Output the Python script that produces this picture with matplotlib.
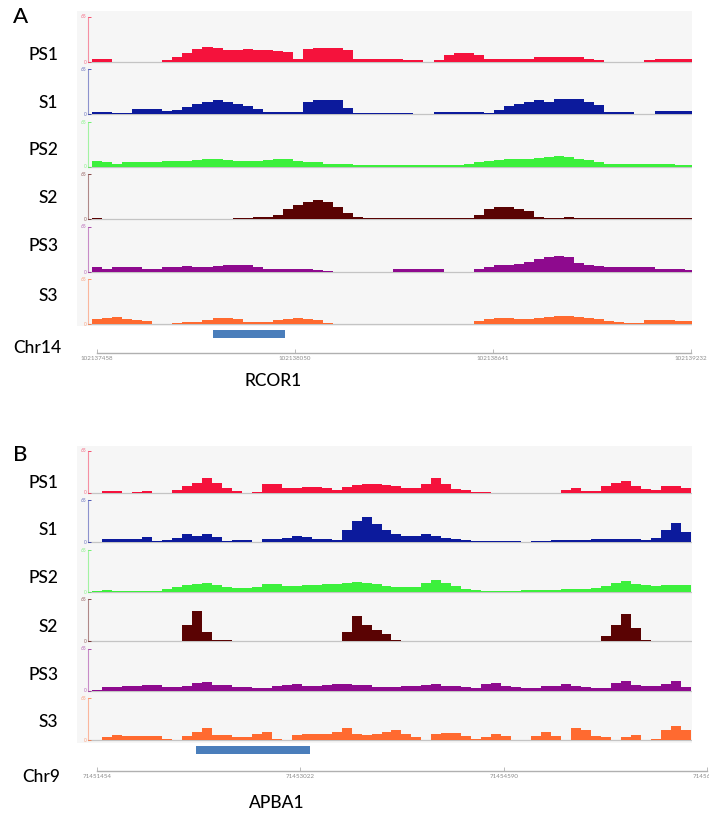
import matplotlib.pyplot as plt
import numpy as np
from matplotlib.patches import Rectangle

W, H = 709, 814

track_names = ["PS1", "S1", "PS2", "S2", "PS3", "S3"]
track_colors = ["#f5123c", "#0c1a9c", "#3cf03c", "#5a0303", "#8e0a8e", "#ff6a30"]
gene_color = "#4a7ebb"

# ---- panel A : chr14 / RCOR1 ----
a_chrom = "Chr14"
a_gene_name = "RCOR1"
a_ticks = [102137458, 102138050, 102138641, 102139232]
a_gene = (102137804, 102138019)
a_bin_start = 102137443
a_bin_size = 30

a_ps1 = [3, 3, 0, 0, 0, 0, 0, 1.5, 7, 13, 18, 21, 20, 17, 17, 18, 17, 17, 15, 14,
         4, 18, 20, 20, 20, 17, 3, 3, 3, 3, 3, 2, 1.5, 0, 1.5, 10, 13, 13, 10, 3,
         3, 4, 4, 4, 6, 6, 7, 7, 6, 3, 1.5, 0, 0, 0, 0, 1.5, 3, 3, 4, 4]
a_s1 = [3, 3, 1, 1.5, 7, 7, 7, 4, 6, 10, 14, 17, 20, 17, 14, 11, 7, 3, 3, 3,
        3, 18, 20, 20, 20, 8, 1.5, 1.5, 1.5, 1.5, 1.5, 1.5, 0, 0, 3, 3, 3, 3, 3, 1.5,
        6, 11, 14, 17, 20, 17, 21, 22, 21, 18, 13, 3, 3, 3, 0, 0, 4, 4, 4, 4]
a_ps2 = [8, 7, 3, 6, 7, 7, 7, 8, 8, 8, 10, 11, 11, 10, 8, 8, 8, 10, 11, 11,
         8, 6, 6, 4, 4, 3, 1.5, 1.5, 1.5, 1.5, 1.5, 1.5, 1.5, 1.5, 1.5, 1.5, 1.5, 3, 6, 8,
         10, 11, 11, 11, 13, 14, 15, 14, 11, 10, 7, 4, 4, 3, 3, 3, 3, 3, 1.5, 1.5]
a_s2 = [1, 0, 0, 0, 0, 0, 0, 0, 0, 0, 0, 0, 0, 0, 1.5, 1.5, 3, 3, 6, 14,
        20, 25, 27, 24, 17, 8, 3, 1.5, 1.5, 1.5, 1.5, 1.5, 1.5, 1.5, 1.5, 1.5, 1.5, 1.5, 6, 14,
        17, 17, 15, 11, 3, 1.5, 1.5, 3, 1.5, 1.5, 1.5, 2, 2, 2, 2, 2, 2, 2, 2, 2]
a_ps3 = [7, 4, 6, 6, 6, 4, 4, 7, 7, 8, 7, 7, 8, 10, 10, 10, 7, 4, 3, 4,
         4, 3, 1.5, 1, 0, 0, 0, 0, 0, 0, 3, 3, 3, 3, 3, 0, 0, 0, 3, 7,
         10, 10, 11, 14, 18, 21, 23, 21, 13, 10, 8, 7, 7, 7, 6, 6, 4, 4, 4, 1.5]
a_s3 = [7, 8, 10, 7, 6, 4, 0, 0, 1.5, 3, 3, 6, 8, 8, 7, 3, 3, 3, 6, 7,
        8, 7, 6, 1.5, 0, 0, 0, 0, 0, 0, 0, 0, 0, 0, 0, 0, 0, 0, 4, 7,
        8, 8, 7, 7, 8, 10, 11, 11, 10, 8, 7, 4, 3, 1.5, 1.5, 6, 6, 6, 4, 4]

# ---- panel B : chr9 / APBA1 ----
b_chrom = "Chr9"
b_gene_name = "APBA1"
b_ticks = [71451454, 71453022, 71454590, 71456158]
b_gene = (71452217, 71453096)
b_bin_start = 71451415
b_bin_size = 77

b_ps1 = [0, 3, 3, 0, 1.5, 3, 0, 0, 4, 10, 15, 22, 15, 7, 3, 0, 1.5, 13, 13, 7,
         7, 9, 9, 7, 4, 9, 12, 13, 13, 12, 10, 7, 7, 13, 22, 13, 6, 4, 1.5, 1.5,
         0, 0, 0, 0, 0, 0, 0, 4, 7, 3, 3, 10, 15, 18, 10, 6, 4, 10, 10, 7]
b_s1 = [0, 4, 4, 4, 4, 7, 1.5, 3, 6, 12, 9, 12, 7, 1.5, 3, 3, 0, 4, 4, 6,
        9, 7, 4, 4, 3, 18, 33, 39, 28, 19, 13, 10, 9, 12, 10, 6, 4, 3, 1.5, 1.5,
        1.5, 1.5, 1.5, 0, 1.5, 1.5, 3, 3, 3, 3, 4, 4, 4, 4, 4, 3, 6, 18, 30, 15]
b_ps2 = [1.5, 3, 1.5, 1.5, 1.5, 1.5, 1.5, 4, 7, 10, 12, 13, 10, 7, 6, 6, 7, 12, 12, 9,
         9, 10, 10, 12, 12, 13, 15, 13, 12, 9, 7, 7, 7, 13, 18, 13, 9, 4, 3, 1.5,
         1.5, 1.5, 1.5, 3, 3, 3, 3, 4, 4, 4, 6, 9, 13, 16, 12, 10, 9, 10, 10, 10]
b_s2 = [0, 0, 0, 0, 0, 0, 0, 0, 0, 24, 46, 14, 1.5, 1.5, 0, 0, 0, 0, 0, 0,
        0, 0, 0, 0, 0, 14, 38, 24, 17, 11, 1.5, 0, 0, 0, 0, 0, 0, 0, 0, 0,
        0, 0, 0, 0, 0, 0, 0, 0, 0, 0, 0, 7, 24, 42, 20, 1.5, 0, 0, 0, 0]
b_ps3 = [1.5, 6, 6, 7, 7, 9, 9, 6, 6, 7, 12, 13, 9, 9, 6, 6, 4, 4, 7, 9,
         10, 7, 7, 9, 10, 10, 9, 9, 6, 6, 6, 7, 7, 9, 10, 7, 7, 6, 4, 10,
         12, 7, 6, 4, 4, 7, 7, 10, 7, 6, 4, 4, 12, 15, 9, 7, 7, 10, 15, 6]
b_s3 = [0, 4, 7, 6, 6, 6, 6, 1.5, 0, 6, 13, 19, 7, 7, 4, 4, 9, 13, 1.5, 0,
        7, 9, 9, 9, 13, 19, 9, 7, 9, 13, 16, 9, 4, 0, 9, 11, 11, 6, 1.5, 4,
        9, 6, 0, 0, 6, 13, 6, 0, 19, 15, 6, 4, 0, 4, 7, 0, 1.5, 15, 22, 16]

y_max = 65

plt.rcParams['font.family'] = ['Lato', 'DejaVu Sans']
fig = plt.figure(figsize=(W / 100, H / 100), dpi=100)


def px_rect(x0, y0, x1, y1):
    """pixel box (top-left origin) -> figure fraction rect"""
    return [x0 / W, 1 - y1 / H, (x1 - x0) / W, (y1 - y0) / H]


def draw_panel(letter, letter_y, tracks, label_ys, ticks, tick_px, bin_start, bin_size,
               gene, gene_name, chrom, top, row_h, base_off, full_px,
               gene_y, ruler_y, chrom_x, chrom_y, name_x, name_y):
    # px -> genomic position
    bp_per_px = (ticks[-1] - ticks[0]) / (tick_px[1] - tick_px[0])

    def g(px):
        return ticks[0] + (px - tick_px[0]) * bp_per_px

    bottom = top + row_h * len(tracks)
    fig.patches.append(Rectangle((77 / W, 1 - bottom / H), (692 - 77) / W, (bottom - top) / H,
                                 transform=fig.transFigure, facecolor="#f6f6f6",
                                 edgecolor="none", zorder=-5))
    fig.text(13 / W, 1 - letter_y / H, letter, fontsize=16, va="center", ha="left",
             fontweight="medium")

    u = y_max / full_px
    for i, (vals, name, col) in enumerate(zip(tracks, track_names, track_colors)):
        y0 = top + i * row_h
        ax = fig.add_axes(px_rect(88, y0, 692, y0 + row_h))
        ax.set_facecolor("none")
        edges = bin_start + bin_size * np.arange(len(vals) + 1)
        ax.stairs(vals, edges, fill=True, color=col, lw=0)
        ax.axhline(0, color="#c4c4c4", lw=0.9, zorder=0)
        ax.set_xlim(g(88), g(692))
        ax.set_ylim(-base_off * u, (row_h - base_off) * u)
        for s in ["top", "right", "bottom"]:
            ax.spines[s].set_visible(False)
        ax.spines["left"].set_bounds(0, y_max)
        ax.spines["left"].set_color(col)
        ax.spines["left"].set_alpha(0.45)
        ax.spines["left"].set_linewidth(0.8)
        ax.set_xticks([])
        ax.set_yticks([0, y_max])
        ax.set_yticklabels(["0", str(y_max)])
        ax.tick_params(axis="y", labelsize=3.5, colors=col, direction="in",
                       length=2, width=0.5, pad=1)
        for t in ax.get_yticklabels():
            t.set_alpha(0.6)
        fig.text(58 / W, 1 - label_ys[i] / H, name, fontsize=12.5,
                 ha="right", va="center", fontweight="medium")

    # gene bar
    ax = fig.add_axes(px_rect(88, gene_y - 4, 692, gene_y + 4))
    ax.axis("off")
    ax.set_xlim(g(88), g(692))
    ax.set_ylim(0, 1)
    ax.barh(0.5, gene[1] - gene[0], left=gene[0], height=1.0, color=gene_color)

    # coordinate ruler
    ax = fig.add_axes(px_rect(88, ruler_y - 6, 709, ruler_y))
    ax.set_facecolor("none")
    ax.set_xlim(g(88), g(709))
    for s in ["top", "right", "left"]:
        ax.spines[s].set_visible(False)
    ax.spines["bottom"].set_bounds(ticks[0], ticks[-1])
    ax.spines["bottom"].set_color("#b0b0b0")
    ax.spines["bottom"].set_linewidth(1.0)
    ax.set_yticks([])
    ax.set_xticks(ticks)
    ax.set_xticklabels([str(t) for t in ticks])
    ax.tick_params(axis="x", direction="in", length=3, width=0.6, colors="#b0b0b0",
                   labelsize=4.5, labelcolor="#8c8c8c", pad=2)

    fig.text(chrom_x / W, 1 - chrom_y / H, chrom, fontsize=12.5, ha="left", va="center",
             fontweight="medium")
    fig.text(name_x / W, 1 - name_y / H, gene_name, fontsize=12.5, ha="center", va="center",
             fontweight="medium")


draw_panel("A", 17, [a_ps1, a_s1, a_ps2, a_s2, a_ps3, a_s3],
           [55, 103, 150, 198, 246, 296], a_ticks, (97, 691), a_bin_start, a_bin_size,
           a_gene, a_gene_name, a_chrom, 11, 52.5, 2, 45,
           gene_y=334, ruler_y=353, chrom_x=13, chrom_y=348, name_x=273, name_y=381)

draw_panel("B", 455, [b_ps1, b_s1, b_ps2, b_s2, b_ps3, b_s3],
           [483, 530, 578, 627, 675, 722], b_ticks, (97, 707), b_bin_start, b_bin_size,
           b_gene, b_gene_name, b_chrom, 446, 49.5, 3, 42,
           gene_y=750, ruler_y=771, chrom_x=22, chrom_y=777, name_x=277, name_y=803)

fig.savefig("out.png", dpi=100)
